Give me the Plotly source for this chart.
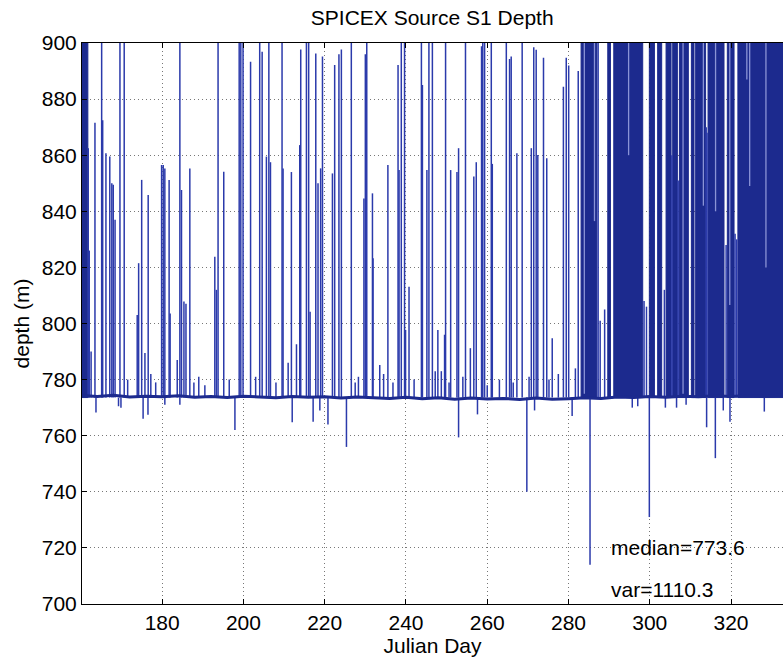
import plotly.graph_objects as go

# ---- data -------------------------------------------------------------
MEDIAN = 773.6
VARIANCE = 1110.3

# quiet baseline depth samples (Julian day, depth in m)
base_day = [160.3, 164, 168, 172, 176, 180, 184, 188, 192, 196, 200, 204,
            208, 212, 216, 220, 224, 228, 232, 236, 240, 244, 248, 252,
            256, 260, 264, 268, 272, 276, 280, 284, 288, 292, 296, 300,
            304, 308, 312, 316, 320, 324, 328, 332, 335]
base_depth = [774.3, 774.0, 774.4, 773.8, 774.1, 773.9, 774.2, 773.7, 774.0,
              773.6, 774.1, 773.8, 773.5, 774.0, 773.7, 773.9, 773.4, 773.8,
              773.5, 773.3, 773.7, 773.2, 773.5, 773.0, 773.4, 773.1, 773.3,
              772.9, 773.4, 773.0, 773.2, 773.5, 773.3, 773.8, 773.6, 774.0,
              773.7, 774.1, 773.9, 774.2, 774.0, 774.3, 774.1, 774.4, 774.2]

# isolated excursions above the baseline (Julian day, peak depth)
spike_day = [161.8, 162.05, 162.5, 163.45, 165.1, 165.35, 166.15, 167.1,
             167.6, 167.95, 168.4, 169.6, 170.65, 171.5, 173.85, 174.2,
             174.95, 175.75, 176.55, 177.2, 178.4, 179.85, 180.25, 180.65,
             181.7, 181.95, 183.7, 184.35, 184.75, 185.35, 185.85, 186.8,
             187.8, 189.0, 190.5, 192.95, 193.35, 193.75, 195.15, 196.5,
             198.95, 199.35, 199.9, 201.75, 203.0, 204.0, 204.6, 205.65,
             206.25, 206.65, 208.0, 209.5, 209.75, 211.0, 211.8, 213.05,
             213.85, 214.1, 215.5, 216.05, 216.4, 217.8, 218.35, 219.0,
             219.45, 221.9, 222.45, 223.5, 224.1, 226.55, 227.5, 228.3,
             229.65, 230.0, 230.35, 231.75, 231.9, 233.55, 234.5, 235.55,
             236.8, 238.05, 238.3, 238.85, 239.65, 239.9, 240.75, 242.0,
             243.8, 244.05, 245.15, 245.65, 246.5, 247.2, 247.85, 248.7,
             249.5, 249.75, 250.6, 251.0, 252.55, 252.95, 254.0, 254.65,
             255.85, 256.7, 257.3, 258.6, 258.9, 259.35, 260.0, 261.0,
             261.25, 263.0, 264.7, 265.5, 265.9, 266.4, 267.3, 268.6,
             270.3, 270.85, 271.45, 272.05, 272.45, 273.85, 274.65, 275.2,
             276.0, 277.5, 278.75, 279.45, 280.05, 281.7, 282.4,
             287.3, 287.8, 288.9, 298.6, 299.2, 303.6, 305.45, 307.0,
             313.9, 314.1, 318.8, 321.0, 321.4]
spike_depth = [862.5, 826.0, 790.0, 871.6, 900.0, 872.5, 860.7, 859.5,
               850.0, 849.5, 837.0, 900.0, 900.0, 780.0, 803.0, 821.5,
               851.2, 789.5, 845.8, 782.0, 779.0, 856.5, 856.5, 855.3,
               851.2, 803.6, 787.0, 900.0, 847.6, 807.8, 807.0, 855.3,
               779.0, 781.0, 778.0, 823.8, 812.0, 900.0, 854.1, 780.0,
               900.0, 900.0, 900.0, 893.3, 781.0, 900.0, 896.9, 859.5,
               900.0, 857.5, 779.0, 900.0, 855.3, 786.0, 854.0, 792.6,
               863.6, 897.7, 900.0, 900.0, 804.2, 896.3, 850.0, 855.3,
               895.2, 853.5, 892.2, 896.0, 897.7, 900.0, 779.0, 781.0,
               844.6, 896.0, 900.0, 846.4, 823.3, 785.2, 782.0, 856.5,
               779.0, 892.2, 854.7, 900.0, 900.0, 797.7, 813.1, 780.0,
               900.0, 885.0, 854.7, 900.0, 900.0, 783.0, 797.7, 783.0,
               796.0, 900.0, 779.0, 854.7, 854.0, 862.5, 781.0, 900.0,
               791.2, 852.4, 857.5, 898.8, 900.0, 900.0, 778.0, 900.0,
               856.9, 780.0, 900.0, 894.3, 895.2, 779.0, 860.7, 900.0,
               781.0, 862.5, 898.5, 897.6, 860.1, 894.7, 858.9, 780.0,
               794.7, 782.0, 884.4, 894.7, 892.0, 784.0, 890.0,
               900.0, 801.0, 805.0, 808.0, 806.0, 812.0, 860.0, 851.0,
               870.0, 868.0, 828.0, 832.0, 830.0]

# stretches where the source sat at the 900 m limit almost continuously
block_start = [160.26, 283.1, 289.67, 291.15, 299.9, 301.95, 304.02, 305.65,
               307.3, 310.25, 311.3, 314.35, 319.1, 321.7]
block_end = [161.7, 287.0, 290.33, 298.27, 301.15, 302.94, 305.25, 306.8,
             309.5, 310.9, 313.75, 318.28, 320.75, 335.0]

# short breaks inside those stretches: the column only reached this depth
notch_day = [283.9, 286.4, 294.8, 308.2, 313.2, 316.2, 319.7, 323.9,
             324.6, 328.6]
notch_depth = [775.0, 836.5, 860.0, 775.0, 842.0, 840.0, 806.6, 887.0,
               849.0, 820.0]

# excursions below the baseline (Julian day, shallowest depth)
dip_day = [163.7, 169.25, 169.85, 175.3, 176.5, 180.65, 184.35, 197.9,
           212.0, 217.15, 218.8, 220.8, 225.35, 252.95, 257.6, 269.75,
           271.65, 280.9, 285.3, 295.7, 297.05, 299.9, 303.85, 306.6,
           308.95, 314.0, 316.15, 318.1, 319.75, 328.2]
dip_depth = [768.3, 770.5, 770.0, 766.0, 767.5, 771.0, 771.0, 762.0,
             764.8, 765.0, 769.0, 764.0, 756.0, 759.4, 767.6, 740.0,
             769.0, 767.0, 714.0, 770.0, 770.5, 731.0, 770.0, 770.0,
             771.0, 763.0, 752.0, 769.0, 765.0, 768.6]

x_ticks = [180, 200, 220, 240, 260, 280, 300, 320]
y_ticks = [700, 720, 740, 760, 780, 800, 820, 840, 860, 880, 900]

# ---- build traces ------------------------------------------------------
LINE = "#2b3aab"
DARK = "#1c2a8e"
LIGHT = "#8a93d6"

sx, sy = [], []
for d, p in zip(spike_day + dip_day, spike_depth + dip_depth):
    sx += [d, d, None]
    sy += [MEDIAN, p, None]

bx, by = [], []
for s, e in zip(block_start, block_end):
    bx += [s, s, e, e, s, None]
    by += [MEDIAN, 900, 900, MEDIAN, MEDIAN, None]

nx, ny = [], []
for d, p in zip(notch_day, notch_depth):
    nx += [d, d, None]
    ny += [p, 900, None]

fig = go.Figure()
fig.add_trace(go.Scatter(x=bx, y=by, mode="lines", fill="toself",
                         fillcolor=DARK, line=dict(color=DARK, width=1),
                         hoverinfo="skip", showlegend=False))
fig.add_trace(go.Scatter(x=nx, y=ny, mode="lines",
                         line=dict(color=LIGHT, width=1.3),
                         hoverinfo="skip", showlegend=False))
fig.add_trace(go.Scatter(x=sx, y=sy, mode="lines",
                         line=dict(color=LINE, width=1.5),
                         showlegend=False))
fig.add_trace(go.Scatter(x=base_day, y=base_depth, mode="lines",
                         line=dict(color=DARK, width=3),
                         showlegend=False))

FONT = "Liberation Sans, Arial, Helvetica, sans-serif"
FS = 21

fig.add_annotation(x=290.0, y=720.3, text=f"median={MEDIAN}", showarrow=False,
                   xanchor="left", yanchor="middle",
                   font=dict(family=FONT, size=FS, color="black"))
fig.add_annotation(x=290.0, y=705.2, text=f"var={VARIANCE}", showarrow=False,
                   xanchor="left", yanchor="middle",
                   font=dict(family=FONT, size=FS, color="black"))

fig.update_layout(
    width=783, height=660,
    margin=dict(l=82, r=0, t=43, b=56),
    paper_bgcolor="white", plot_bgcolor="white",
    font=dict(family=FONT, size=FS, color="black"),
    title=dict(text="SPICEX Source S1 Depth", x=0.552, xanchor="center",
               y=0.973, yanchor="middle",
               font=dict(family=FONT, size=FS, color="black")),
)
fig.update_xaxes(
    range=[160.26, 332.8], tickvals=x_ticks, ticks="inside", ticklen=5,
    tickcolor="black", showline=True, linecolor="black", linewidth=1,
    mirror="ticks", showgrid=True, gridcolor="#777", griddash="1px,3px",
    gridwidth=1, zeroline=False,
    title=dict(text="Julian Day", standoff=0, font=dict(size=FS)),
    tickfont=dict(size=FS),
)
fig.update_yaxes(
    range=[700, 900], tickvals=y_ticks, ticks="inside", ticklen=5,
    tickcolor="black", showline=True, linecolor="black", linewidth=1,
    showgrid=True, gridcolor="#777", griddash="1px,3px", gridwidth=1,
    zeroline=False,
    title=dict(text="depth (m)", standoff=6, font=dict(size=FS)),
    tickfont=dict(size=FS),
)

fig.write_html("out.html")
